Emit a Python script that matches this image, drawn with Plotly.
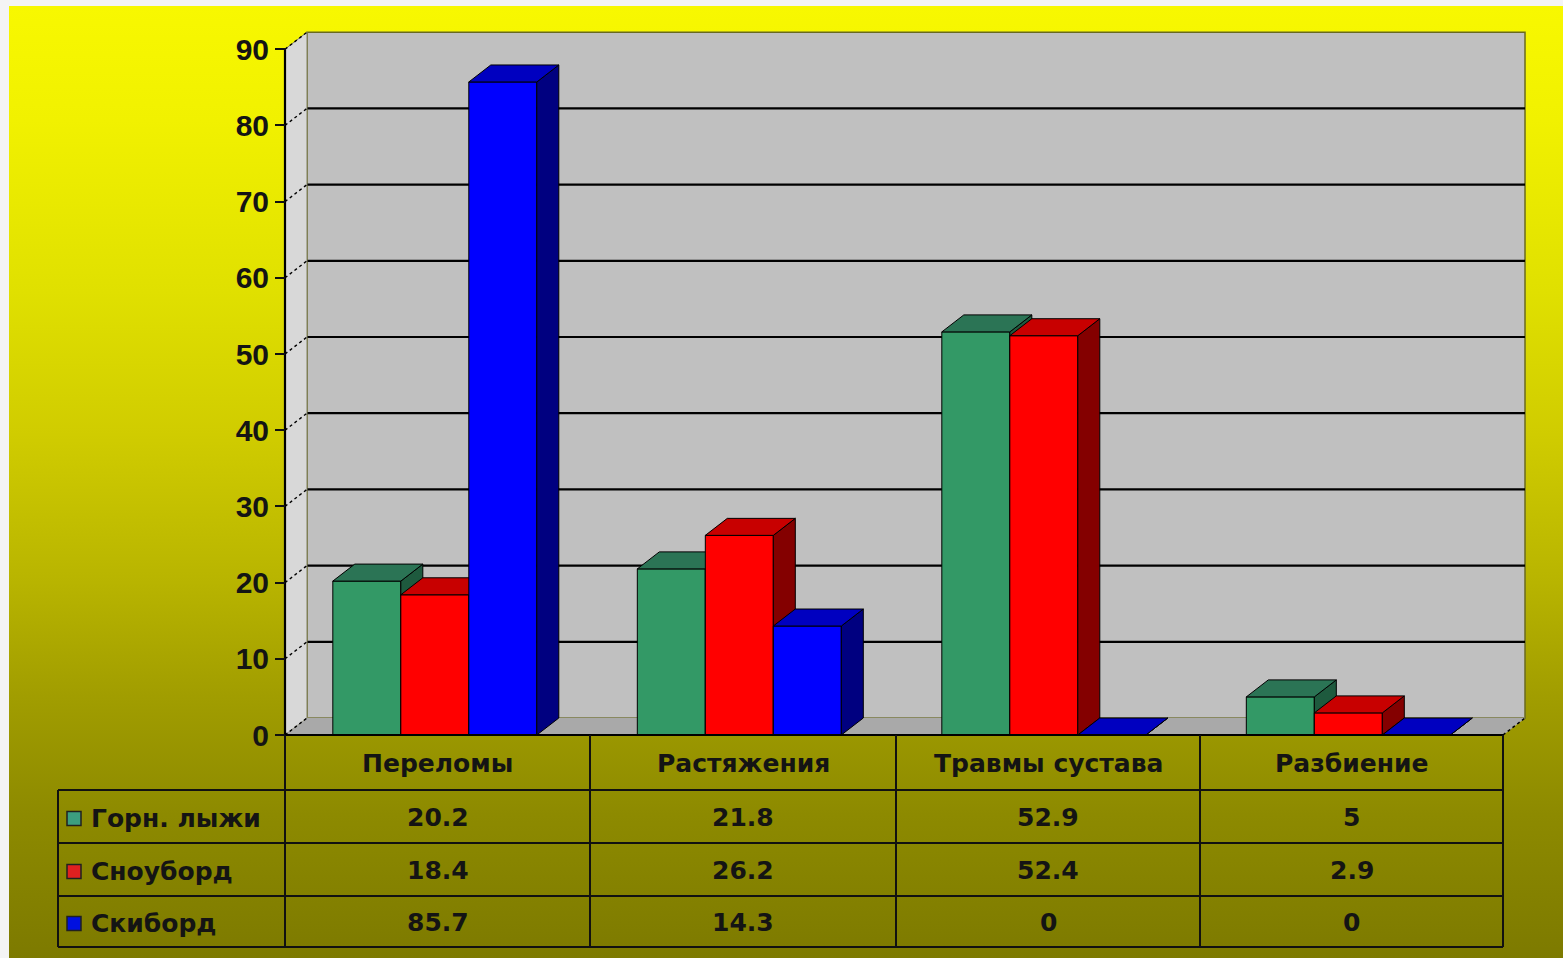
import base64
import plotly.graph_objects as go

# ---------------- data ----------------
categories = ["Переломы", "Растяжения", "Травмы сустава", "Разбиение"]
series_names = ["Горн. лыжи", "Сноуборд", "Скиборд"]
ski = [20.2, 21.8, 52.9, 5]
snowboard = [18.4, 26.2, 52.4, 2.9]
skiboard = [85.7, 14.3, 0, 0]
y_ticks = [0, 10, 20, 30, 40, 50, 60, 70, 80, 90]

series_values = [ski, snowboard, skiboard]

# ---------------- styling / geometry ----------------
W, H = 1563, 958
CAT_PX = 304.5          # pixels per category
Y_PX = 7.62             # pixels per y unit
X0_PX, Y0_PX = 285, 735  # pixel of (x=-0.5, y=0)
DX = 22 / CAT_PX         # 3D depth offset in x units
DY = 17 / Y_PX           # 3D depth offset in y units
BAR_W = 0.2233
BAR_SHIFT = -0.008

# plot area pixels (padded beyond geometry to avoid clipping of edge lines)
L, R, T, B = 270, 1540, 22, 745
XR = [-0.5 - (X0_PX - L) / CAT_PX, -0.5 + (R - X0_PX) / CAT_PX]
YR = [-(B - Y0_PX) / Y_PX, (Y0_PX - T) / Y_PX]

XL = -0.5
XE = len(categories) - 0.5
YTOP = y_ticks[-1]

front_c = ["#339966", "#FF0000", "#0000FF"]
top_c = ["#2B7455", "#C80000", "#0000C0"]
side_c = ["#1E5A3E", "#840000", "#000080"]
key_c = ["#3C9E80", "#E02020", "#0010E0"]


def xp(px):
    return (px - L) / (R - L)


def yp(py):
    return (B - py) / (B - T)


fig = go.Figure()


def poly(xs, ys, fill, line="black", lw=1.0):
    fig.add_trace(go.Scatter(
        x=xs + [xs[0]], y=ys + [ys[0]], mode="lines", fill="toself",
        fillcolor=fill, line=dict(color=line, width=lw),
        hoverinfo="skip", showlegend=False))


def seg(xs, ys, color="black", lw=2.0, dash="solid"):
    fig.add_trace(go.Scatter(
        x=xs, y=ys, mode="lines", line=dict(color=color, width=lw, dash=dash),
        hoverinfo="skip", showlegend=False))


# back wall
poly([XL + DX, XE + DX, XE + DX, XL + DX], [DY, DY, YTOP + DY, YTOP + DY],
     "#C0C0C0", line="#6A6A20", lw=1.5)
# back wall gridlines
for v in y_ticks[1:-1]:
    seg([XL + DX, XE + DX], [v + DY, v + DY], "black", 2.2)
# side wall
poly([XL, XL + DX, XL + DX, XL], [0, DY, YTOP + DY, YTOP], "#D8D8D8",
     line="#808060", lw=1)
for v in y_ticks[1:]:
    seg([XL, XL + DX], [v, v + DY], "black", 1.4, "dot")
# floor
poly([XL, XE, XE + DX, XL + DX], [0, 0, DY, DY], "#A9A9A9", line="#A9A9A9", lw=0.5)
seg([XE, XE + DX], [0, DY], "black", 1.5, "dot")
seg([XL, XL + DX], [0, DY], "black", 1.4, "dot")

# bars (painted left to right so later fronts hide earlier sides)
nser = len(series_values)
for i in range(len(categories)):
    for j in range(nser):
        v = series_values[j][i]
        x0 = i + BAR_SHIFT + (j - nser / 2) * BAR_W
        x1 = x0 + BAR_W
        poly([x0, x1, x1, x0], [0, 0, v, v], front_c[j])
        poly([x1, x1 + DX, x1 + DX, x1], [0, DY, v + DY, v], side_c[j])
        poly([x0, x1, x1 + DX, x0 + DX], [v, v, v + DY, v + DY], top_c[j])

# y axis line
seg([XL, XL], [0, YTOP], "black", 2.2)
seg([XL, XE], [0, 0], "black", 2.2)

# ---------------- background ----------------
stops = [(0, "#F8F800"), (0.12, "#F1F100"), (0.3, "#E0E000"), (0.45, "#D0CC00"),
         (0.6, "#B9B500"), (0.72, "#A29E00"), (0.85, "#8D8A00"), (1, "#7D7A00")]
stop_xml = "".join(f'<stop offset="{o}" stop-color="{c}"/>' for o, c in stops)
svg = (f'<svg xmlns="http://www.w3.org/2000/svg" width="{W}" height="{H}" '
       f'viewBox="0 0 {W} {H}" preserveAspectRatio="none">'
       f'<defs><linearGradient id="g" x1="0" y1="0" x2="0" y2="1">{stop_xml}'
       f'</linearGradient></defs>'
       f'<rect width="{W}" height="{H}" fill="#F4F4F4"/>'
       f'<rect x="9" y="6" width="{W - 9}" height="{H - 6}" fill="url(#g)"/></svg>')
src = "data:image/svg+xml;base64," + base64.b64encode(svg.encode()).decode()

images = [dict(source=src, xref="paper", yref="paper", x=xp(0), y=yp(0),
               sizex=W / (R - L), sizey=H / (B - T), xanchor="left",
               yanchor="top", sizing="stretch", layer="below")]

# ---------------- data table ----------------
col_x = [285, 590, 896, 1200, 1503]
row_y = [735, 790, 843, 896, 947]
left_x = 58
shapes = []
lc = dict(color="#111111", width=2)
for k, y in enumerate(row_y[1:]):
    shapes.append(dict(type="line", xref="paper", yref="paper", x0=xp(left_x), x1=xp(col_x[-1]),
                       y0=yp(y), y1=yp(y), line=lc))
shapes.append(dict(type="line", xref="paper", yref="paper", x0=xp(left_x), x1=xp(left_x),
                   y0=yp(row_y[1]), y1=yp(row_y[-1]), line=lc))
for cx in col_x:
    shapes.append(dict(type="line", xref="paper", yref="paper", x0=xp(cx), x1=xp(cx),
                       y0=yp(row_y[0]), y1=yp(row_y[-1]), line=lc))

annotations = []
tfont = dict(family="DejaVu Sans, Liberation Sans, sans-serif", size=25, color="#141414", weight=700)
for i, c in enumerate(categories):
    cxm = (col_x[i] + col_x[i + 1]) / 2
    annotations.append(dict(text=c, x=xp(cxm), y=yp((row_y[0] + row_y[1]) / 2 + 1),
                            xref="paper", yref="paper", xanchor="center", yanchor="middle",
                            showarrow=False, font=tfont))
    for j in range(nser):
        v = series_values[j][i]
        annotations.append(dict(text=f"{v:g}", x=xp(cxm),
                                y=yp((row_y[j + 1] + row_y[j + 2]) / 2 + 1),
                                xref="paper", yref="paper", xanchor="center",
                                yanchor="middle", showarrow=False, font=tfont))
for j, name in enumerate(series_names):
    cy = (row_y[j + 1] + row_y[j + 2]) / 2 + 2
    shapes.append(dict(type="rect", xref="paper", yref="paper",
                       x0=xp(67), x1=xp(81), y0=yp(cy - 7), y1=yp(cy + 7),
                       fillcolor=key_c[j], line=dict(color="#202020", width=1.5)))
    annotations.append(dict(text=name, x=xp(89), y=yp(cy), xref="paper", yref="paper",
                            xanchor="left", yanchor="middle", showarrow=False, font=tfont))

fig.update_layout(
    width=W, height=H,
    margin=dict(l=L, r=W - R, t=T, b=H - B, autoexpand=False),
    paper_bgcolor="#F4F4F4",
    plot_bgcolor="rgba(0,0,0,0)",
    images=images,
    shapes=shapes,
    annotations=annotations,
    showlegend=False,
    xaxis=dict(range=XR, showgrid=False, zeroline=False, showticklabels=False,
               ticks="", showline=False, fixedrange=True),
    yaxis=dict(range=YR, tickvals=y_ticks, ticktext=[str(t) for t in y_ticks],
               showgrid=False, zeroline=False, showline=False,
               anchor="free", position=(X0_PX - L) / (R - L),
               ticks="outside", ticklen=10, tickwidth=2, tickcolor="#111111",
               tickfont=dict(family="Liberation Sans, Arial, sans-serif", size=30,
                             color="#141414", weight=700),
               fixedrange=True),
)

fig.write_html("out.html")
